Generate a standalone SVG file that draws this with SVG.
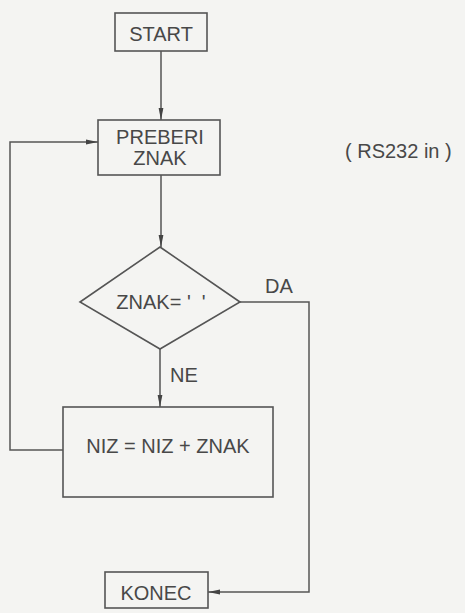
<svg xmlns="http://www.w3.org/2000/svg" width="465" height="613" viewBox="0 0 465 613">
<style>
.bg{fill:#f4f4f2}
.box{fill:none;stroke:#555;stroke-width:1.6}
.ln{fill:none;stroke:#555;stroke-width:1.5}
.t{font-family:"Liberation Sans",Arial,sans-serif;font-size:20px;fill:#484848;text-anchor:middle}
.l{font-family:"Liberation Sans",Arial,sans-serif;font-size:20px;fill:#484848}
</style>
<defs>
<marker id="ah" viewBox="0 0 12 6" refX="12" refY="3" markerWidth="12" markerHeight="6" markerUnits="userSpaceOnUse" orient="auto">
<path d="M0,0.6 L12,3 L0,5.4 z" fill="#444"/>
</marker>
</defs>
<rect class="bg" x="0" y="0" width="465" height="613"/>
<g id="connectors">
<line class="ln" x1="161" y1="51" x2="161" y2="120" marker-end="url(#ah)"/>
<line class="ln" x1="161" y1="175" x2="161" y2="247" marker-end="url(#ah)"/>
<line class="ln" x1="160" y1="349" x2="160" y2="407" marker-end="url(#ah)"/>
<polyline class="ln" points="63,450 10,450 10,142 98,142" marker-end="url(#ah)"/>
<polyline class="ln" points="240,302 309,302 309,592 208,592" marker-end="url(#ah)"/>
<text class="l" x="265" y="293">DA</text>
<text class="l" x="170" y="382">NE</text>
</g>
<g id="start">
<rect class="box" x="115" y="13" width="92" height="38"/>
<text class="t" x="161" y="41">START</text>
</g>
<g id="preberi">
<rect class="box" x="98" y="120" width="122" height="55"/>
<text class="t" x="160" y="144">PREBERI</text>
<text class="t" x="160" y="165">ZNAK</text>
</g>
<g id="decision">
<polygon class="box" points="160,247 240,302 160,349 80,302"/>
<text class="t" x="161" y="309" xml:space="preserve">ZNAK= '  '</text>
</g>
<g id="niz">
<rect class="box" x="63" y="407" width="210" height="90"/>
<text class="t" x="168" y="453" xml:space="preserve">NIZ = NIZ + ZNAK</text>
</g>
<g id="konec">
<rect class="box" x="105" y="572" width="103" height="36"/>
<text class="t" x="156" y="600">KONEC</text>
</g>
<g id="note">
<text class="l" x="345" y="158" xml:space="preserve">( RS232 in )</text>
</g>
</svg>
